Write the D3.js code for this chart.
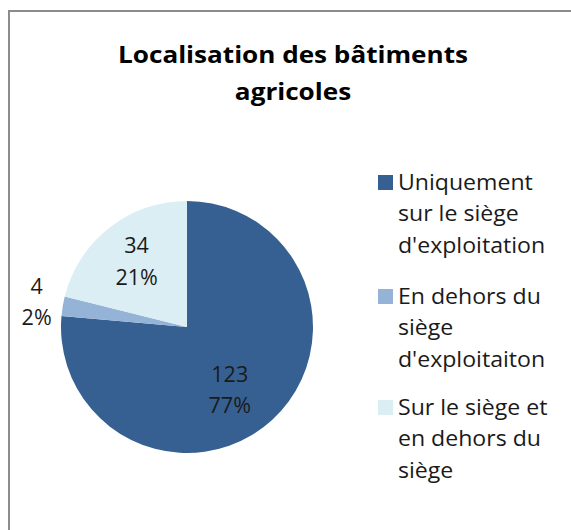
<!DOCTYPE html>
<html><head><meta charset="utf-8">
<script src="https://cdn.jsdelivr.net/npm/d3@7"></script>
<style>body{margin:0;background:#fff}</style>
</head><body>
<svg id="c" width="571" height="530"></svg>
<script>
const categories = ["Uniquement sur le siège d'exploitation", "En dehors du siège d'exploitaiton", "Sur le siège et en dehors du siège"];
const legendLines = [["Uniquement","sur le siège","d'exploitation"],["En dehors du","siège","d'exploitaiton"],["Sur le siège et","en dehors du","siège"]];
const values = [123, 4, 34];
const percentLabels = ["77%", "2%", "21%"];
const colors = ["#376092", "#95b3d7", "#dbeef4"];
const titleLines = ["Localisation des bâtiments", "agricoles"];

const svg = d3.select("#c");
const font = "'Open Sans', sans-serif";
svg.append("path").attr("d","M9,530 V11 H571").attr("fill","none").attr("stroke","#8c8c8c").attr("stroke-width",2);

// title, stretched horizontally like the original rendering
const tg = svg.append("g");
const tt = tg.selectAll("text").data(titleLines).join("text")
  .attr("x",0).attr("y",(d,i)=>63+i*37).attr("text-anchor","middle")
  .attr("font-family",font).attr("font-weight","bold").attr("font-size",23).attr("fill","#000").text(d=>d);
const tw = tt.node().getComputedTextLength();
tg.attr("transform",`translate(293,0) scale(${350/tw},1)`);

const cx=187, cy=327, r=126;
const pie = d3.pie().sort(null)(values);
const arc = d3.arc().innerRadius(0).outerRadius(r);
const g = svg.append("g").attr("transform",`translate(${cx},${cy})`);
g.selectAll("path").data(pie).join("path").attr("d",arc).attr("fill",(d,i)=>colors[i]);

const labelR = [0.62*r, 1.21*r, 0.65*r];
const labelShift = [[-10,5],[0,0],[0,-1]];
pie.forEach((d,i)=>{
  const p = d3.arc().innerRadius(labelR[i]).outerRadius(labelR[i]).centroid(d);
  const x = p[0]+labelShift[i][0], y = p[1]+labelShift[i][1];
  const t = g.append("text").attr("text-anchor","middle").attr("font-family",font).attr("font-size",21.5).attr("fill","#1a1a1a");
  t.append("tspan").attr("x",x).attr("y",y-8).text(values[i]);
  t.append("tspan").attr("x",x).attr("y",y+23.5).text(percentLabels[i]);
});

const lg = svg.append("g");
const groupY = [175, 289, 400];
legendLines.forEach((lines,i)=>{
  lg.append("rect").attr("x",378).attr("y",groupY[i]).attr("width",15).attr("height",15).attr("fill",colors[i]);
  lg.append("g").attr("transform",`translate(398,0) scale(1.1,1)`).selectAll("text").data(lines).join("text")
    .attr("x",0).attr("y",(d,j)=>groupY[i]+15+j*31.5)
    .attr("font-family",font).attr("font-size",21).attr("fill","#1a1a1a").text(d=>d);
});
</script>
</body></html>
